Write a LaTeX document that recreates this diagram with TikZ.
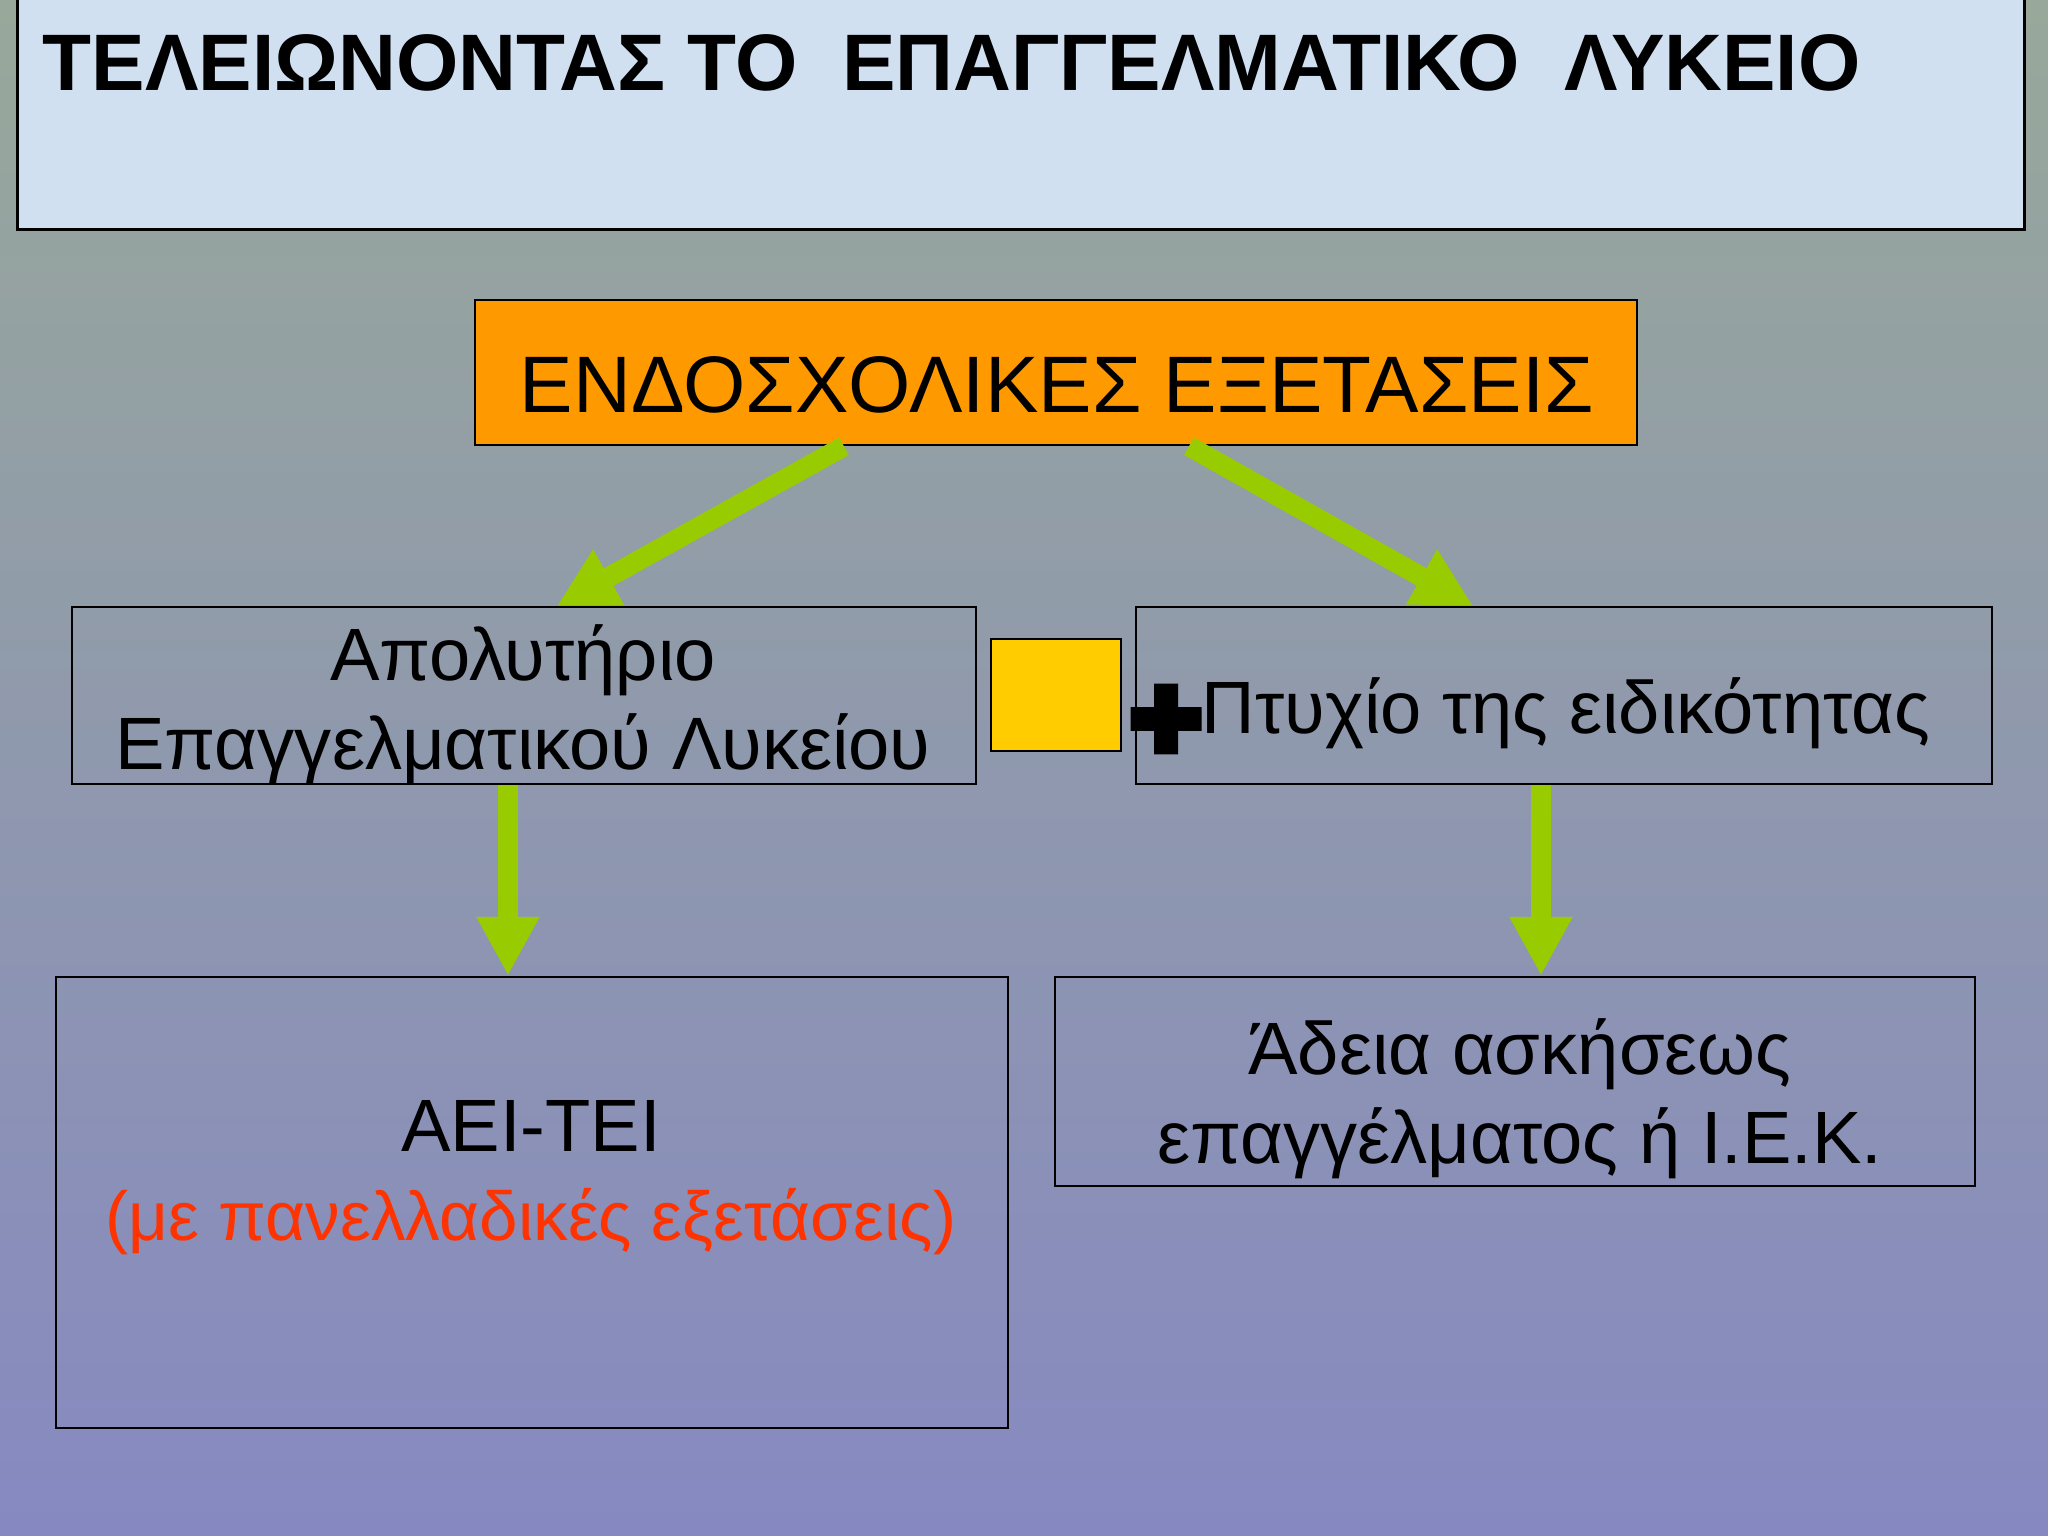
\documentclass[tikz,border=0pt]{standalone}
\usepackage{fontspec}
\setmainfont{Liberation Sans}
\usepackage{tikz}
\usetikzlibrary{arrows.meta, positioning, calc}
\definecolor{myorange}{RGB}{255,153,0}
\definecolor{myyellow}{RGB}{255,204,0}
\definecolor{mygreen}{RGB}{153,204,0}
\definecolor{myred}{RGB}{255,51,0}
\definecolor{mysky}{RGB}{208,224,240}
\definecolor{bgtop}{RGB}{152,168,154}
\definecolor{bgbot}{RGB}{134,137,193}

\begin{document}
\begin{tikzpicture}[
    box/.style={draw=black,line width=0.7pt,inner sep=0pt},
    txt/.style={anchor=base,align=center,inner sep=0pt,font=\fontsize{21.1}{25.3}\selectfont},
    garrow/.style={-{Triangle[length=0.59cm,width=0.59cm]},line width=0.2cm,mygreen}
]
    \useasboundingbox (0,0) rectangle (20.48,-15.36);
    \shade[top color=bgtop,bottom color=bgbot] (0,0) rectangle (20.48,-15.36);

    \node[box,line width=0.9pt,fill=mysky,minimum width=20.07cm,minimum height=2.4cm,anchor=south west] (head) at (0.16,-2.31) {};
    \node[anchor=base west,inner sep=0pt,font=\fontsize{22.8}{28}\selectfont\bfseries] (title) at (0.42,-0.91) {ΤΕΛΕΙΩΝΟΝΤΑΣ ΤΟ\ \ ΕΠΑΓΓΕΛΜΑΤΙΚΟ\ \ ΛΥΚΕΙΟ};

    \node[box,fill=myorange,minimum width=11.62cm,minimum height=1.45cm] (endo) at (10.56,-3.725) {};
    \node[txt,font=\fontsize{22.8}{27}\selectfont] (endot) at (10.57,-4.13) {ΕΝΔΟΣΧΟΛΙΚΕΣ ΕΞΕΤΑΣΕΙΣ};

    \node[box,minimum width=9.04cm,minimum height=1.77cm] (apol) at (5.24,-6.955) {};
    \node[txt] (apolt) at (5.23,-7.69) {Απολυτήριο\\Επαγγελματικού Λυκείου};
    \node[box,fill=myyellow,minimum width=1.30cm,minimum height=1.12cm] (kouti) at (10.56,-6.95) {};
    \node[box,minimum width=8.56cm,minimum height=1.77cm] (ptyx) at (15.64,-6.955) {};
    \node[txt] (ptyxt) at (15.66,-7.34) {Πτυχίο της ειδικότητας};
    \coordinate (plus) at (11.66,-7.19);
    \fill (plus) +(-0.355,-0.12) rectangle +(0.355,0.12)
          (plus) +(-0.12,-0.355) rectangle +(0.12,0.355);

    \node[box,minimum width=9.52cm,minimum height=4.51cm] (aei) at (5.32,-12.025) {};
    \node[txt] (aeit) at (5.31,-12.40) {ΑΕΙ-ΤΕΙ\\\textcolor{myred}{\fontsize{19.7}{25.3}\selectfont(με πανελλαδικές εξετάσεις)}};
    \node[box,minimum width=9.20cm,minimum height=2.09cm] (adeia) at (15.15,-10.815) {};
    \node[txt] (adeiat) at (15.20,-11.63) {Άδεια ασκήσεως\\επαγγέλματος ή Ι.Ε.Κ.};

    \draw[garrow] ([xshift=-2.12cm]endo.south) -- ([xshift=0.33cm]apol.north);
    \draw[garrow] ([xshift=1.33cm]endo.south) -- ([xshift=-0.91cm]ptyx.north);
    \draw[garrow] ([xshift=-0.16cm]apol.south) -- ([xshift=-0.16cm]apol.south |- aei.north);
    \draw[garrow] ([xshift=-0.23cm]ptyx.south) -- ([xshift=-0.23cm]ptyx.south |- adeia.north);
\end{tikzpicture}
\end{document}
